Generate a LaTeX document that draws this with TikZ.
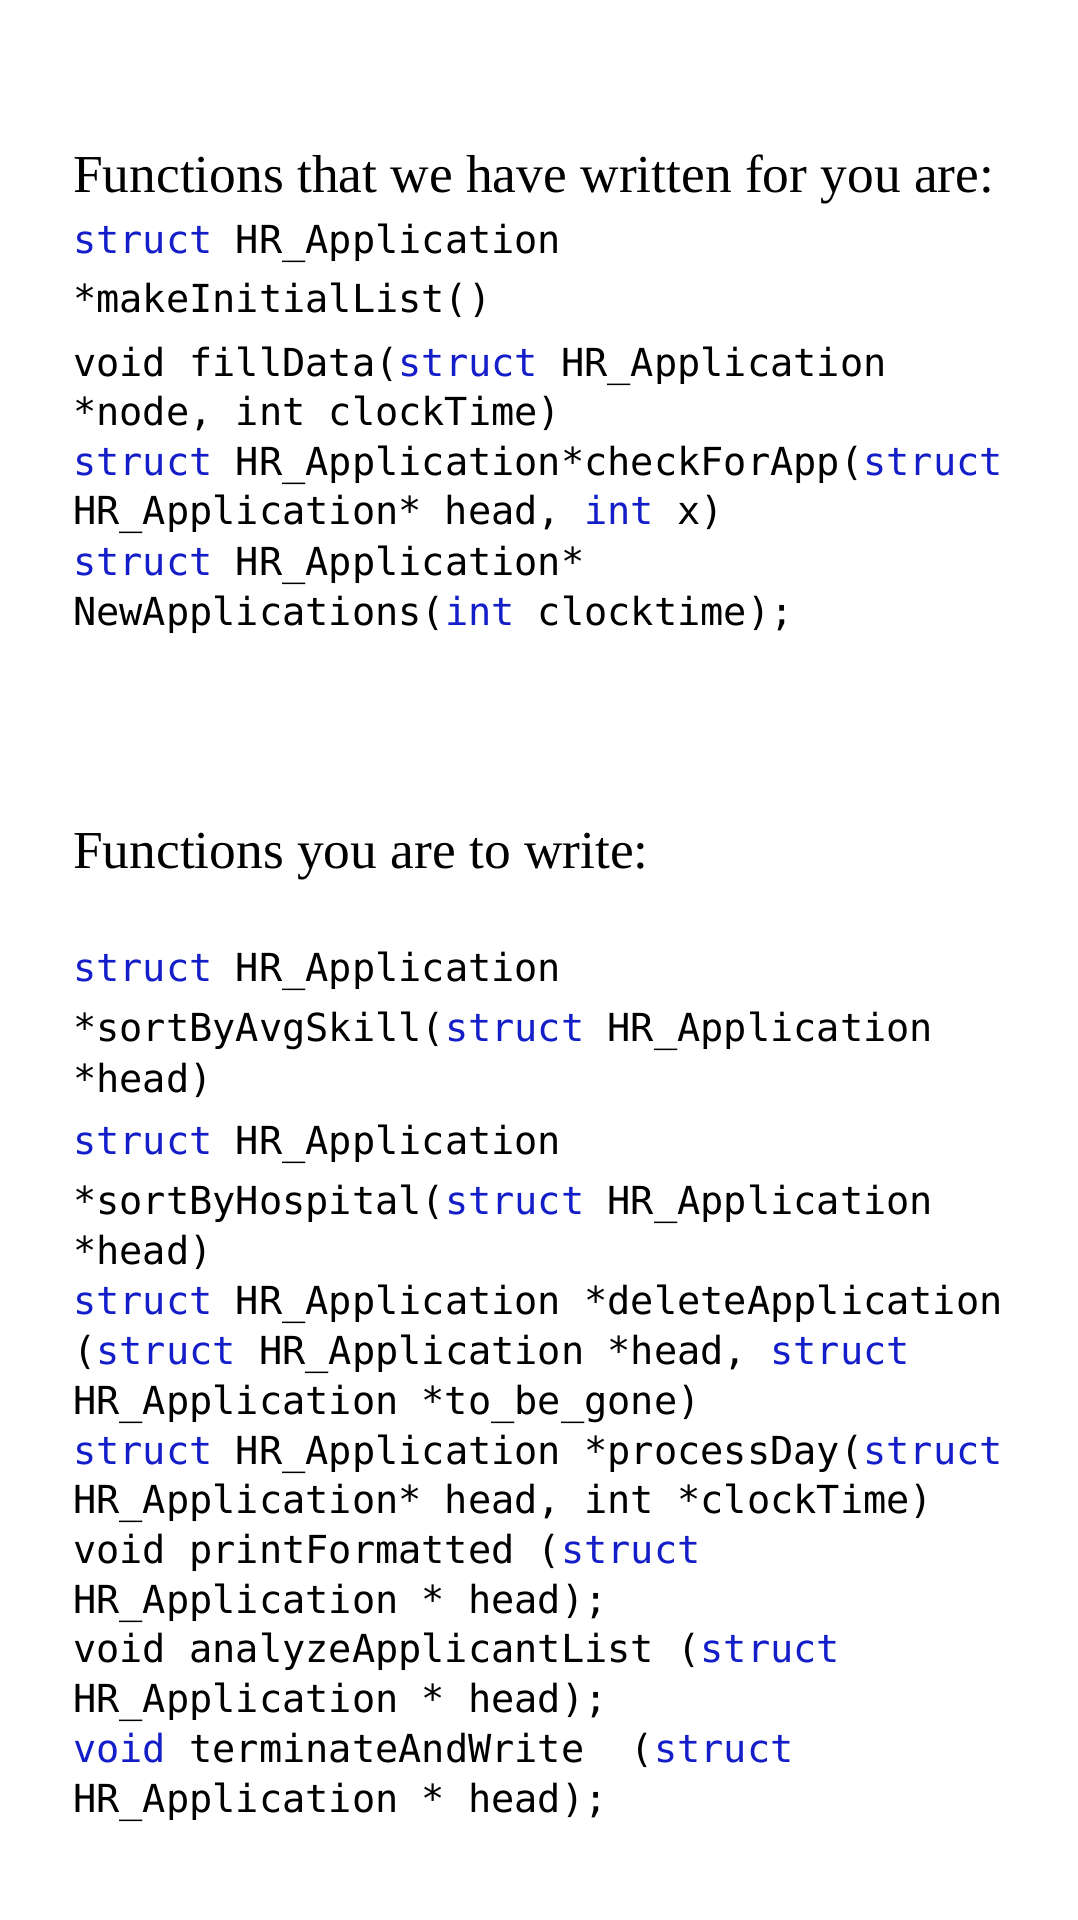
\documentclass[tikz,border=0pt]{standalone}
\usepackage{fontspec}
\setmainfont{Liberation Serif}
\setmonofont{DejaVu Sans Mono}
\definecolor{kw}{RGB}{20,30,200}
\newcommand\kwc[1]{\textcolor{kw}{#1}}
\begin{document}
\begin{tikzpicture}[x=1pt,y=-1pt,
  head/.style={anchor=mid west,inner sep=0pt,font=\fontsize{53.4}{53.4}\selectfont},
  code/.style={anchor=mid west,inner sep=0pt,font=\fontsize{38.6}{38.6}\ttfamily}]
\useasboundingbox (0,0) rectangle (1078,1920);
\node[head] (h1) at (73,190) {Functions that we have written for you are:};
\foreach \yy/\t [count=\i] in {
251/{\kwc{struct} HR\_Application},
310/{*makeInitialList()},
374/{void fillData(\kwc{struct} HR\_Application},
423/{*node, int clockTime)},
473/{\kwc{struct} HR\_Application*checkForApp(\kwc{struct}},
522/{HR\_Application* head, \kwc{int} x)},
573/{\kwc{struct} HR\_Application*},
623/{NewApplications(\kwc{int} clocktime);}}
  \node[code] (a\i) at (73,\yy) {\t};
\node[head] (h2) at (73,866) {Functions you are to write:};
\foreach \yy/\t [count=\i] in {
979/{\kwc{struct} HR\_Application},
1039/{*sortByAvgSkill(\kwc{struct} HR\_Application},
1090/{*head)},
1152/{\kwc{struct} HR\_Application},
1212/{*sortByHospital(\kwc{struct} HR\_Application},
1262/{*head)},
1312/{\kwc{struct} HR\_Application *deleteApplication},
1362/{(\kwc{struct} HR\_Application *head, \kwc{struct}},
1412/{HR\_Application *to\_be\_gone)},
1462/{\kwc{struct} HR\_Application *processDay(\kwc{struct}},
1511/{HR\_Application* head, int *clockTime)},
1561/{void printFormatted (\kwc{struct}},
1611/{HR\_Application * head);},
1660/{void analyzeApplicantList (\kwc{struct}},
1710/{HR\_Application * head);},
1760/{\kwc{void} terminateAndWrite \ (\kwc{struct}},
1810/{HR\_Application * head);}}
  \node[code] (b\i) at (73,\yy) {\t};
\end{tikzpicture}
\end{document}
